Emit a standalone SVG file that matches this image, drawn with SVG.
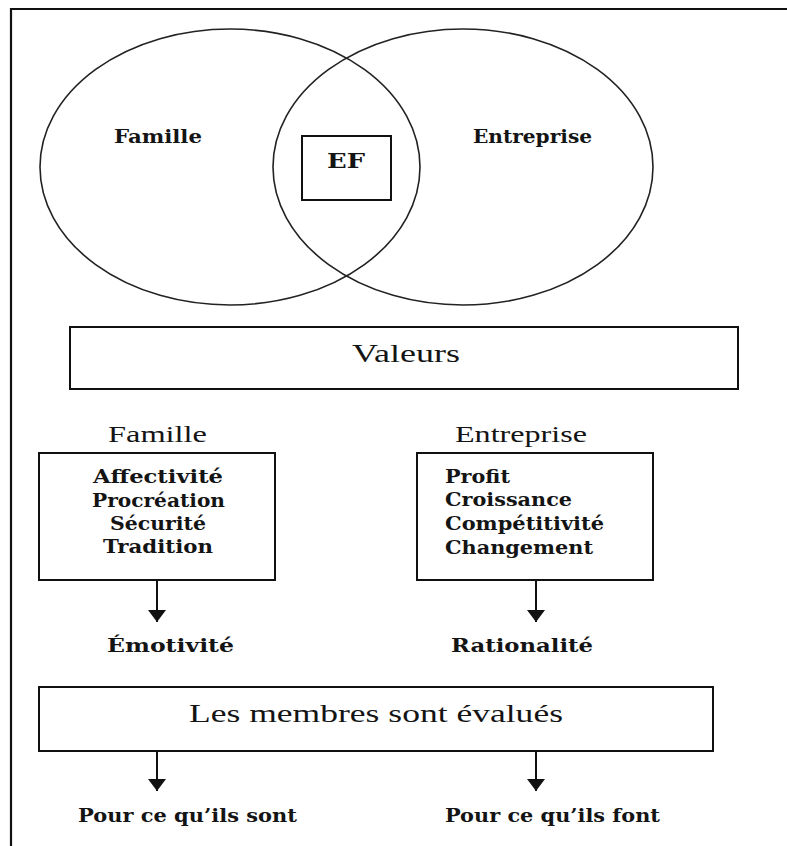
<svg xmlns="http://www.w3.org/2000/svg" width="787" height="846" viewBox="0 0 787 846">
  <style>
    .frame { fill: none; stroke: #111; stroke-width: 2.2; }
    .ring { fill: none; stroke: #222; stroke-width: 1.6; }
    .box { fill: #fff; stroke: #111; stroke-width: 2; }
    .link { fill: none; stroke: #111; stroke-width: 2; }
    text { fill: #141414; }
    .sm { font-family: "DejaVu Serif", "Liberation Serif", serif; font-size: 18px; font-weight: bold; }
    .hd { font-family: "Liberation Serif", "DejaVu Serif", serif; font-size: 24px; }
    .big { font-family: "Liberation Serif", "DejaVu Serif", serif; font-size: 26px; }
  </style>
  <defs>
    <marker id="head" viewBox="0 0 12 18" refX="12" refY="9" markerWidth="12" markerHeight="18" markerUnits="userSpaceOnUse" orient="auto">
      <path d="M0,0 L12,9 L0,18 z" fill="#111"/>
    </marker>
  </defs>

  <!-- page frame (left and top edges only) -->
  <path class="frame" d="M11,846 V9 H787"/>

  <!-- overlapping sets -->
  <g id="set-famille">
    <ellipse class="ring" cx="230" cy="167" rx="190" ry="138"/>
    <text class="sm" x="114" y="143" textLength="88" lengthAdjust="spacingAndGlyphs">Famille</text>
  </g>
  <g id="set-entreprise">
    <ellipse class="ring" cx="463" cy="167" rx="190" ry="138"/>
    <text class="sm" x="473" y="143" textLength="119" lengthAdjust="spacingAndGlyphs">Entreprise</text>
  </g>
  <g id="ef">
    <rect class="box" x="302" y="136" width="89" height="64" fill="none"/>
    <text class="sm" x="327" y="168" textLength="38" lengthAdjust="spacingAndGlyphs" style="font-size:21px">EF</text>
  </g>

  <!-- values banner -->
  <g id="valeurs">
    <rect class="box" x="70" y="327" width="668" height="62"/>
    <text class="big" x="352" y="362" textLength="108" lengthAdjust="spacingAndGlyphs">Valeurs</text>
  </g>

  <!-- family values -->
  <g id="valeurs-famille">
    <text class="hd" x="108" y="442" textLength="99" lengthAdjust="spacingAndGlyphs">Famille</text>
    <rect class="box" x="39" y="453" width="236" height="127"/>
    <text class="sm" x="93" y="483" textLength="130" lengthAdjust="spacingAndGlyphs">Affectivité</text>
    <text class="sm" x="92" y="507" textLength="133" lengthAdjust="spacingAndGlyphs">Procréation</text>
    <text class="sm" x="110" y="530" textLength="96" lengthAdjust="spacingAndGlyphs">Sécurité</text>
    <text class="sm" x="103" y="553" textLength="110" lengthAdjust="spacingAndGlyphs">Tradition</text>
  </g>

  <!-- business values -->
  <g id="valeurs-entreprise">
    <text class="hd" x="455" y="442" textLength="132" lengthAdjust="spacingAndGlyphs">Entreprise</text>
    <rect class="box" x="417" y="453" width="236" height="127"/>
    <text class="sm" x="445" y="483" textLength="65" lengthAdjust="spacingAndGlyphs">Profit</text>
    <text class="sm" x="445" y="506" textLength="127" lengthAdjust="spacingAndGlyphs">Croissance</text>
    <text class="sm" x="445" y="530" textLength="159" lengthAdjust="spacingAndGlyphs">Compétitivité</text>
    <text class="sm" x="445" y="554" textLength="148" lengthAdjust="spacingAndGlyphs">Changement</text>
  </g>

  <g id="emotivite">
    <text class="sm" x="107" y="652" textLength="127" lengthAdjust="spacingAndGlyphs">Émotivité</text>
  </g>
  <g id="rationalite">
    <text class="sm" x="451" y="652" textLength="142" lengthAdjust="spacingAndGlyphs">Rationalité</text>
  </g>

  <!-- evaluation banner -->
  <g id="evaluation">
    <rect class="box" x="39" y="687" width="674" height="64"/>
    <text class="big" x="189" y="722" textLength="374" lengthAdjust="spacingAndGlyphs">Les membres sont évalués</text>
  </g>

  <g id="sont">
    <text class="sm" x="78" y="822" textLength="219" lengthAdjust="spacingAndGlyphs">Pour ce qu’ils sont</text>
  </g>
  <g id="font">
    <text class="sm" x="445" y="822" textLength="215" lengthAdjust="spacingAndGlyphs">Pour ce qu’ils font</text>
  </g>

  <!-- connectors -->
  <g id="connectors">
    <line class="link" x1="157" y1="580" x2="157" y2="622" marker-end="url(#head)"/>
    <line class="link" x1="536" y1="580" x2="536" y2="622" marker-end="url(#head)"/>
    <line class="link" x1="157" y1="751" x2="157" y2="791" marker-end="url(#head)"/>
    <line class="link" x1="536" y1="751" x2="536" y2="791" marker-end="url(#head)"/>
  </g>
</svg>
